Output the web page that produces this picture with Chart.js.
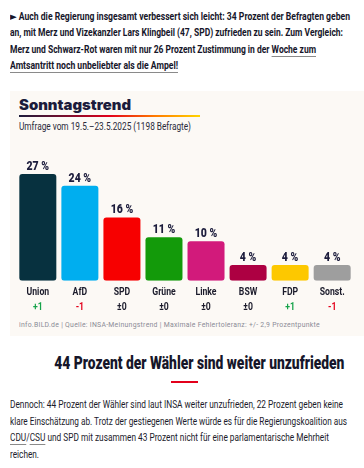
<!DOCTYPE html>
<html>
<head>
<meta charset="utf-8">
<script src="https://cdn.jsdelivr.net/npm/chart.js@4.4.1/dist/chart.umd.min.js"></script>
<style>
  html, body { margin:0; padding:0; background:#fff; }
  body { width:364px; height:468px; position:relative; overflow:hidden;
         font-family:Roboto,"DejaVu Sans",sans-serif; color:#1b1b2b; }
  .ln { display:block; white-space:nowrap; }
  .ln span { display:inline-block; transform-origin:0 50%; white-space:nowrap; }
  .lead { position:absolute; left:10px; top:9px; font-size:11px; font-weight:bold; line-height:16.4px; color:#16162a; }
  u { text-decoration-color:#8a8a8a; text-underline-offset:3px; text-decoration-thickness:1px; }
  .panel { position:absolute; left:10px; top:91px; width:354px; height:245px; background:#fcf9f5; }
  .ttl { position:absolute; left:19px; top:96px; font-family:Inter,"DejaVu Sans",sans-serif;
         font-weight:900; font-size:14px; color:#1c1c3c; }
  .bar { position:absolute; left:19px; top:115px; width:181px; height:2px;
         background:linear-gradient(90deg,#1c1c3c 0%,#8a0a2a 30%,#e3001b 50%,#ff7a00 75%,#ffd400 100%); }
  .sub { position:absolute; left:19px; top:120px; font-size:10.5px; color:#2a2a3a; }
  .foot { position:absolute; left:19px; top:320px; font-size:7.5px; color:#8b8b96; letter-spacing:0.3px; }
  #wrap { position:absolute; left:10px; top:150px; width:354px; height:170px; }
  .h2 { position:absolute; left:0; width:370px; top:351px; text-align:center; font-size:19px;
        font-weight:900; color:#16162a; line-height:24px; }
  .h2 span { display:inline-block; transform-origin:50% 50%; white-space:nowrap; }
  .red { position:absolute; left:171px; top:381px; width:27px; height:2px; background:#e3001b; }
  .body { position:absolute; left:10px; top:397px; font-size:11px; line-height:16.5px; color:#1b1b2b; }
</style>
</head>
<body>
<div class="lead">
  <div class="ln"><span data-w="340">► Auch die Regierung insgesamt verbessert sich leicht: 34 Prozent der Befragten geben</span></div>
  <div class="ln"><span data-w="333">an, mit Merz und Vizekanzler Lars Klingbeil (47, SPD) zufrieden zu sein. Zum Vergleich:</span></div>
  <div class="ln"><span data-w="306">Merz und Schwarz-Rot waren mit nur 26 Prozent Zustimmung in der <u>Woche zum</u></span></div>
  <div class="ln"><span data-w="168"><u>Amtsantritt noch unbeliebter als die Ampel!</u></span></div>
</div>

<div class="panel"></div>
<div class="ttl"><span class="ln" style="display:inline-block"><span data-w="112">Sonntagstrend</span></span></div>
<div class="bar"></div>
<div class="sub"><span class="ln"><span data-w="172">Umfrage vom 19.5.–23.5.2025 (1198 Befragte)</span></span></div>
<div id="wrap"><canvas id="chart"></canvas></div>
<div class="foot"><span class="ln"><span data-w="301">info.BILD.de | Quelle: INSA-Meinungstrend | Maximale Fehlertoleranz: +/- 2,9 Prozentpunkte</span></span></div>

<div class="h2"><span data-w="290">44 Prozent der Wähler sind weiter unzufrieden</span></div>
<div class="red"></div>
<div class="body">
  <div class="ln"><span data-w="333">Dennoch: 44 Prozent der Wähler sind laut INSA weiter unzufrieden, 22 Prozent geben keine</span></div>
  <div class="ln"><span data-w="337">klare Einschätzung ab. Trotz der gestiegenen Werte würde es für die Regierungskoalition aus</span></div>
  <div class="ln"><span data-w="319"><u>CDU</u>/<u>CSU</u> und SPD mit zusammen 43 Prozent nicht für eine parlamentarische Mehrheit</span></div>
  <div class="ln"><span data-w="29">reichen.</span></div>
</div>

<script>
// Daten
const parties = ["Union","AfD","SPD","Grüne","Linke","BSW","FDP","Sonst."];
const values  = [27,24,16,11,10,4,4,4];
const changes = ["+1","-1","±0","±0","±0","±0","+1","-1"];
const colors  = ["#07313f","#00aeef","#f70000","#139a0a","#d21a7b","#ad0042","#fdc800","#9e9e9e"];

const FONT = 'Roboto,"DejaVu Sans",sans-serif';

// Textzeilen auf Breite stauchen (schmale Schrift nachbilden)
document.querySelectorAll("[data-w]").forEach(el=>{
  const w = el.getBoundingClientRect().width;
  el.style.transform = `scaleX(${el.dataset.w / w})`;
});

function changeColor(c){
  if(c.startsWith("+")) return "#16a34a";
  if(c.startsWith("-")) return "#e3001b";
  return "#1b1b2b";
}

function squeezeText(ctx, text, x, y, sx){
  ctx.save();
  ctx.translate(x, y);
  ctx.scale(sx, 1);
  ctx.fillText(text, 0, 0);
  ctx.restore();
}

// Beschriftungen über/unter den Balken
const labelPlugin = {
  id:"labels",
  afterDatasetsDraw(chart){
    const ctx = chart.ctx;
    const meta = chart.getDatasetMeta(0);
    const bottom = chart.chartArea.bottom;
    ctx.save();
    ctx.textAlign = "center";

    ctx.font = "900 13px " + FONT;
    const sVal = 22.6 / ctx.measureText("27 %").width;
    ctx.font = "bold 10.5px " + FONT;
    const sCat = 22.6 / ctx.measureText("Union").width;

    meta.data.forEach((bar,i)=>{
      ctx.fillStyle = "#1c1c3c";
      ctx.font = "900 13px " + FONT;
      ctx.textBaseline = "alphabetic";
      squeezeText(ctx, values[i] + " %", bar.x, bar.y - 4, sVal);

      ctx.textBaseline = "middle";
      ctx.font = "bold 10.5px " + FONT;
      ctx.fillStyle = "#1b1b2b";
      squeezeText(ctx, parties[i], bar.x, bottom + 12, sCat);

      ctx.fillStyle = changeColor(changes[i]);
      squeezeText(ctx, changes[i], bar.x, bottom + 26.5, sCat);
    });
    ctx.restore();
  }
};

new Chart(document.getElementById("chart"), {
  type:"bar",
  data:{ labels:parties, datasets:[{
    data:values,
    backgroundColor:colors,
    borderRadius:3,
    borderSkipped:false,
    categoryPercentage:1,
    barPercentage:0.88
  }]},
  options:{
    responsive:true,
    maintainAspectRatio:false,
    animation:false,
    layout:{ padding:{ left:6.8, right:10.8, top:24, bottom:39.3 } },
    plugins:{ legend:{display:false}, tooltip:{enabled:false} },
    scales:{
      x:{ display:false },
      y:{ display:false, min:0, max:27 }
    }
  },
  plugins:[labelPlugin]
});
</script>
</body>
</html>
